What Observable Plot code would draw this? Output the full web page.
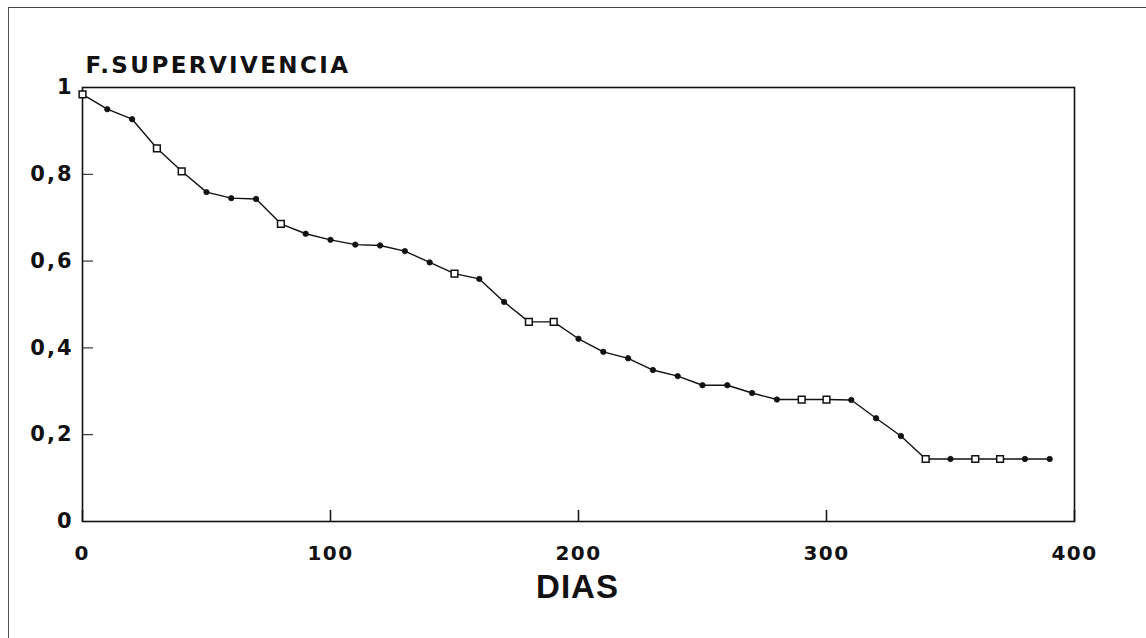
<!DOCTYPE html>
<html>
<head>
<meta charset="utf-8">
<script src="https://cdn.jsdelivr.net/npm/d3@7"></script>
<script src="https://cdn.jsdelivr.net/npm/@observablehq/plot@0.6"></script>
<style>
  html, body { margin: 0; padding: 0; background: #fff; }
  #wrap { position: relative; width: 1146px; height: 638px; overflow: hidden; }
  #border { position: absolute; left: 8px; top: 7px; width: 1160px; height: 700px;
            border-left: 1.5px solid #555; border-top: 1.5px solid #444; }
  #chart { position: absolute; left: 0; top: 0; }
</style>
</head>
<body>
<div id="wrap"><div id="border"></div><div id="chart"></div></div>
<script>
// Days and survival function values
const days = [0,10,20,30,40,50,60,70,80,90,100,110,120,130,140,150,160,170,180,190,
              200,210,220,230,240,250,260,270,280,290,300,310,320,330,340,350,360,370,380,390];
const survival = [0.984,0.950,0.927,0.860,0.807,0.759,0.745,0.743,0.686,0.663,
                  0.649,0.638,0.636,0.623,0.597,0.571,0.559,0.506,0.460,0.460,
                  0.421,0.391,0.376,0.349,0.335,0.314,0.314,0.296,0.281,0.281,
                  0.281,0.280,0.238,0.197,0.144,0.144,0.144,0.144,0.144,0.144];
// days drawn with an open square marker (the rest: filled dots)
const openDays = [0,30,40,80,150,180,190,290,300,340,360,370];

const xTicks = [0,100,200,300,400];
const xTickLabels = ["0","100","200","300","400"];
const yTicks = [0,0.2,0.4,0.6,0.8,1];
const yTickLabels = ["0","0,2","0,4","0,6","0,8","1"];
const titleText = "F.SUPERVIVENCIA";
const xLabel = "DIAS";

const data = days.map((d, i) => ({day: d, s: survival[i], open: openDays.includes(d)}));

const W = 1146, H = 638;
const mL = 82, mR = 72, mT = 87, mB = 117;
const plotW = W - mL - mR, plotH = H - mT - mB;

const chart = Plot.plot({
  width: W, height: H,
  marginLeft: mL, marginRight: mR, marginTop: mT, marginBottom: mB,
  x: {domain: [0, 400], axis: null},
  y: {domain: [0, 1], axis: null},
  style: {fontFamily: "DejaVu Sans", background: "transparent", overflow: "visible"},
  marks: [
    Plot.frame({stroke: "#111", strokeWidth: 1.6}),
    // inward ticks
    Plot.ruleX(xTicks, {x: d => d, insetTop: plotH - 11, stroke: "#111", strokeWidth: 1.5}),
    Plot.ruleY(yTicks, {y: d => d, insetRight: plotW - 11, stroke: "#111", strokeWidth: 1}),
    // tick labels
    Plot.text(xTicks, {x: d => d, text: (d, i) => xTickLabels[i], frameAnchor: "bottom", dy: 38,
      fontSize: 20, fontWeight: "bold", fill: "#111"}),
    Plot.text(yTicks, {y: d => d, text: (d, i) => yTickLabels[i], frameAnchor: "left", dx: -9,
      textAnchor: "end", fontSize: 21, fontWeight: "bold", fill: "#111"}),
    // survival curve
    Plot.line(data, {x: "day", y: "s", stroke: "#111", strokeWidth: 1.4}),
    Plot.dot(data.filter(d => !d.open), {x: "day", y: "s", r: 2.7, fill: "#111", stroke: "#111", strokeWidth: 0.8}),
    Plot.dot(data.filter(d => d.open), {x: "day", y: "s", symbol: "square", r: 3.8, fill: "#fff", stroke: "#111", strokeWidth: 1.5}),
    // title and axis label
    Plot.text([titleText], {text: d => d, frameAnchor: "top-left", dx: 3, dy: -22, textAnchor: "start",
      lineAnchor: "middle", fontSize: 23, fontWeight: "bold", fill: "#111"}),
    Plot.text([xLabel], {text: d => d, frameAnchor: "bottom", dx: -1, dy: 76,
      fontSize: 33, fontWeight: "bold", fontFamily: "Liberation Sans", fill: "#111"})
  ]
});

// letter spacing to mimic the wide plotter lettering
const spacing = new Map([[titleText, 2.4], [xLabel, 1]]);
xTickLabels.forEach(t => spacing.set(t, 1.5));
yTickLabels.forEach(t => spacing.set(t, 2));
d3.select(chart).selectAll("text").each(function() {
  const s = spacing.get(this.textContent);
  if (s != null) this.style.letterSpacing = s + "px";
});
document.getElementById("chart").appendChild(chart);
</script>
</body>
</html>
